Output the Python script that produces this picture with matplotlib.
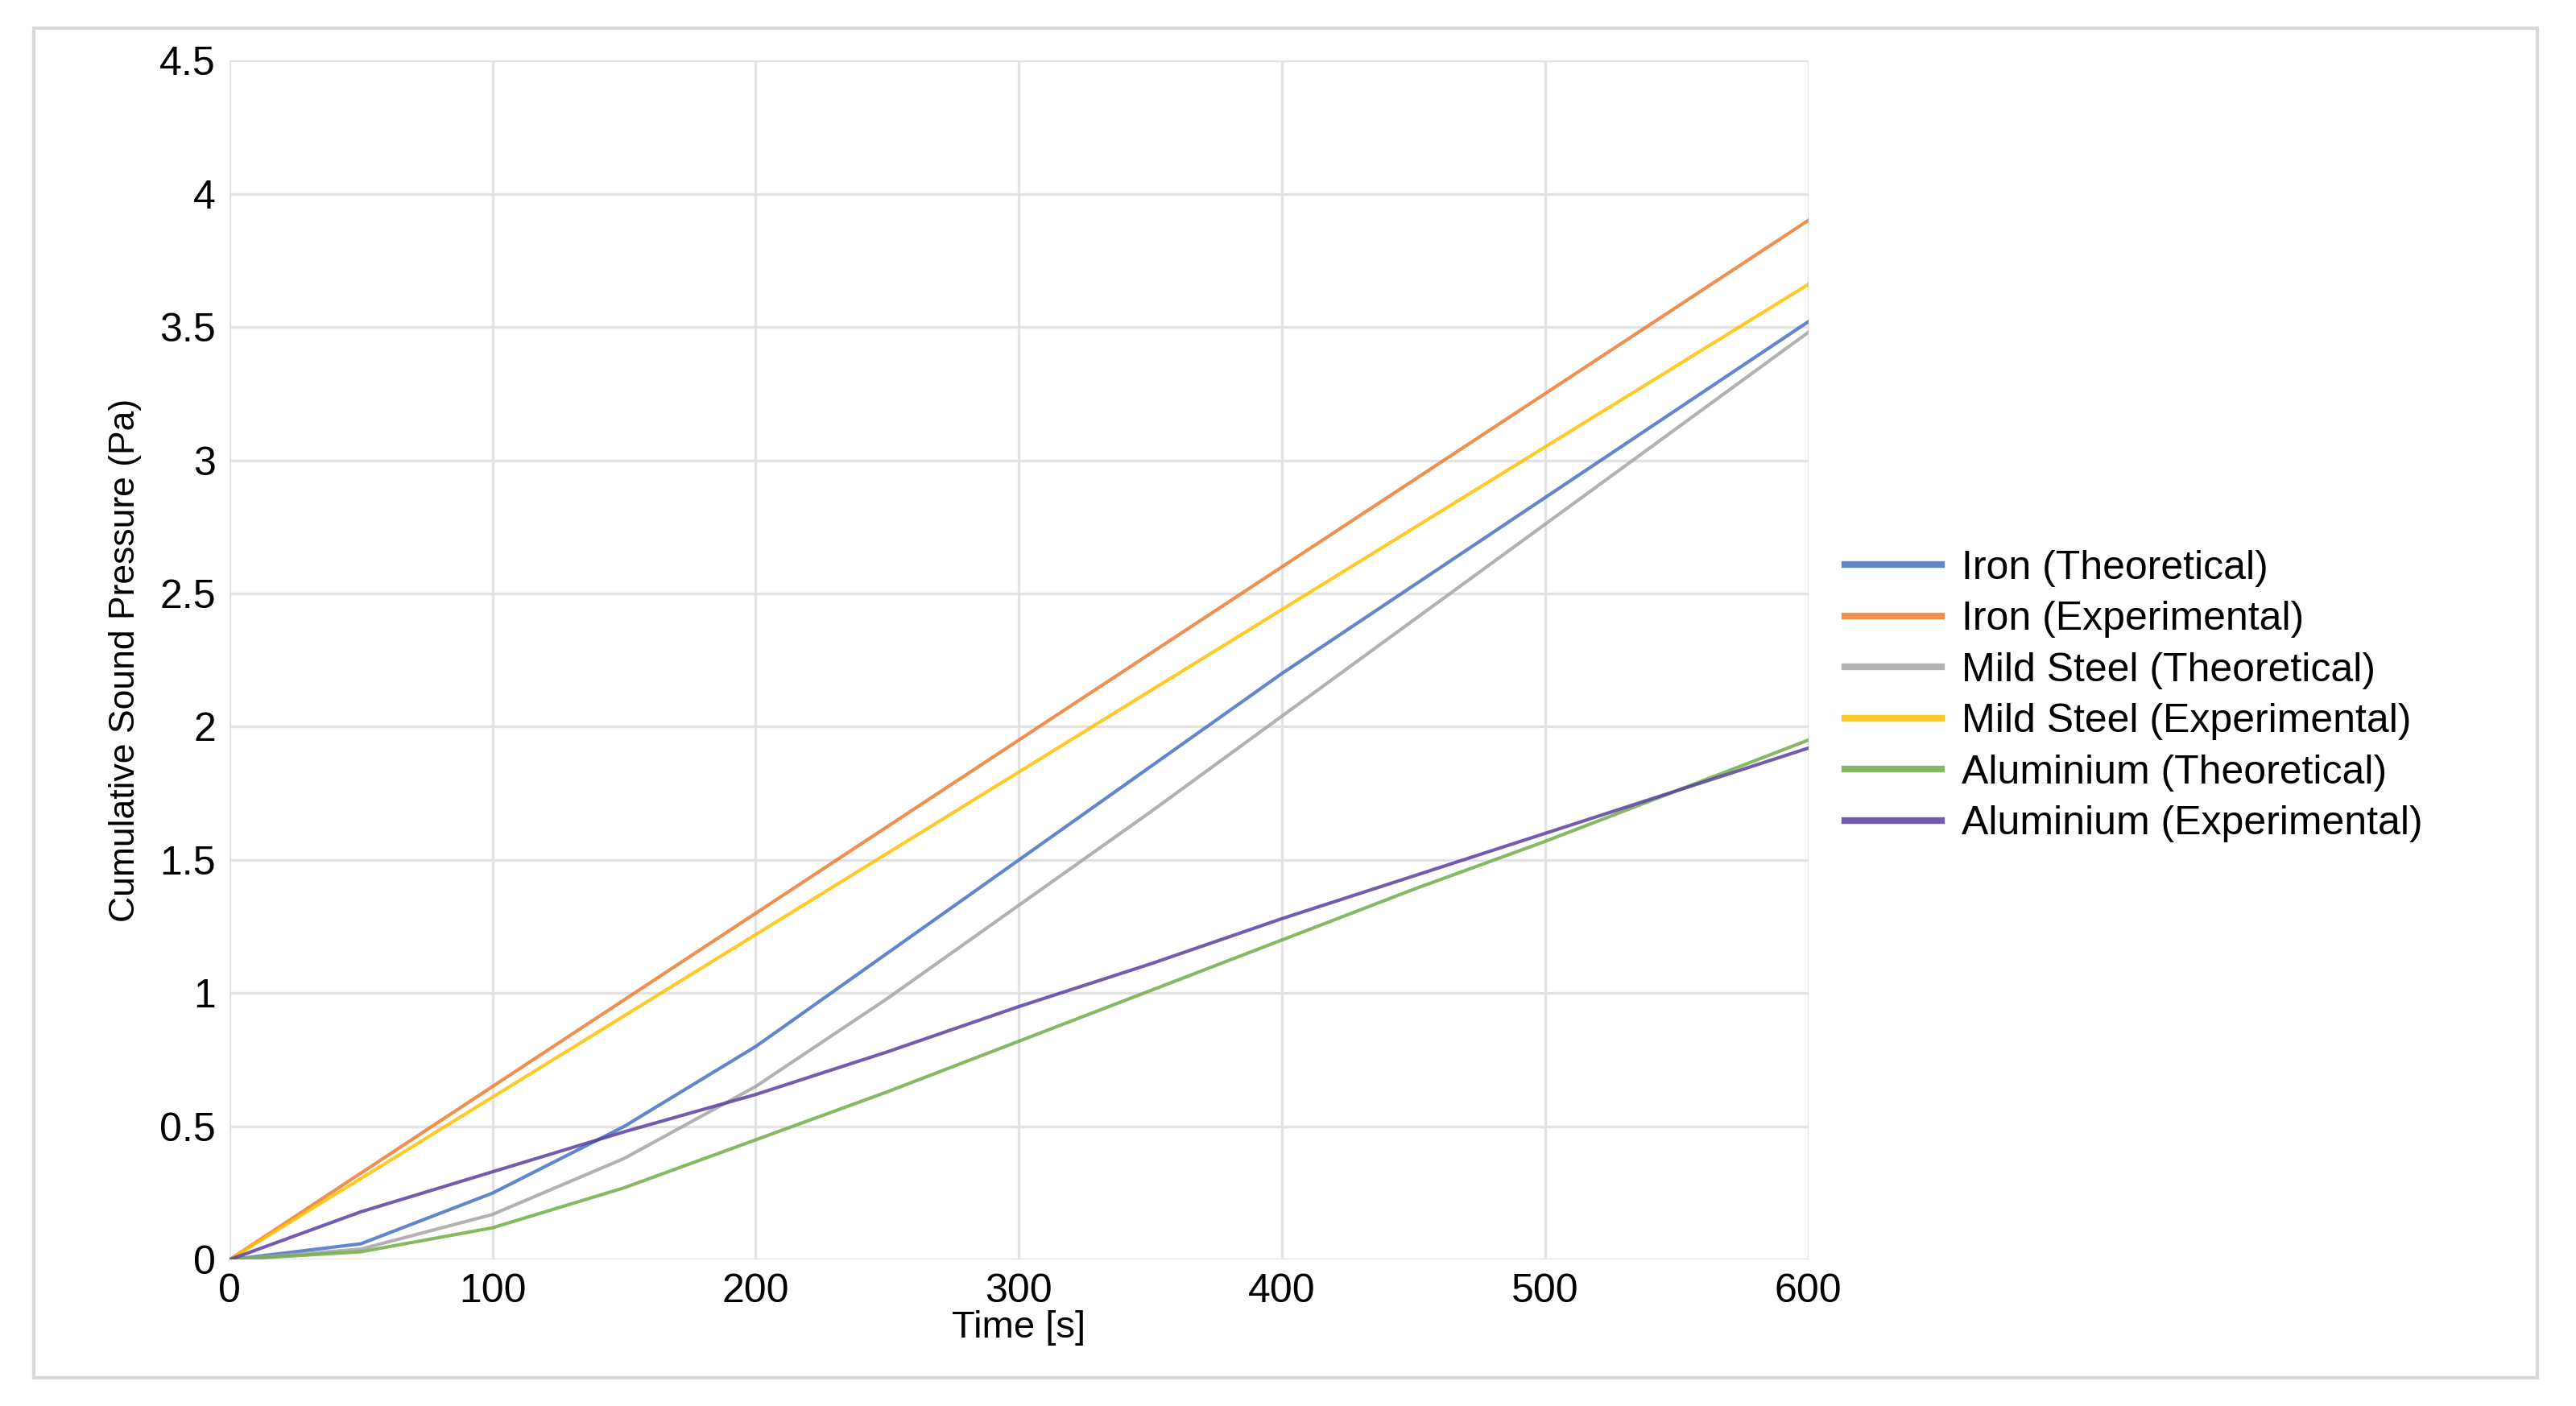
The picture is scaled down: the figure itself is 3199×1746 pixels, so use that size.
import matplotlib
matplotlib.use("Agg")
import matplotlib.pyplot as plt
from matplotlib.patches import Rectangle

plt.rcParams['font.family'] = ['Liberation Sans', 'DejaVu Sans']

t = [0, 50, 100, 150, 200, 250, 300, 350, 400, 450, 500, 550, 600]
iron_theo = [0, 0.06, 0.25, 0.5, 0.8, 1.15, 1.5, 1.85, 2.2, 2.53, 2.86, 3.19, 3.52]
iron_exp = [0, 0.325, 0.65, 0.975, 1.3, 1.625, 1.95, 2.275, 2.6, 2.925, 3.25, 3.575, 3.9]
ms_theo = [0, 0.04, 0.17, 0.38, 0.65, 0.98, 1.33, 1.68, 2.04, 2.4, 2.76, 3.12, 3.48]
ms_exp = [0, 0.305, 0.61, 0.915, 1.22, 1.525, 1.83, 2.135, 2.44, 2.745, 3.05, 3.355, 3.66]
al_theo = [0, 0.03, 0.12, 0.27, 0.45, 0.63, 0.82, 1.01, 1.2, 1.39, 1.57, 1.76, 1.95]
al_exp = [0, 0.18, 0.33, 0.48, 0.62, 0.78, 0.95, 1.11, 1.28, 1.44, 1.6, 1.76, 1.92]

series = [
    ("Iron (Theoretical)", iron_theo, "#4472C4"),
    ("Iron (Experimental)", iron_exp, "#ED7D31"),
    ("Mild Steel (Theoretical)", ms_theo, "#A5A5A5"),
    ("Mild Steel (Experimental)", ms_exp, "#FFC000"),
    ("Aluminium (Theoretical)", al_theo, "#70AD47"),
    ("Aluminium (Experimental)", al_exp, "#5B3FA0"),
]

fig = plt.figure(figsize=(15.995, 8.73), dpi=200)
fig.patches.append(Rectangle((0.013, 0.02), 0.972, 0.96, transform=fig.transFigure,
                             fill=False, edgecolor='#D9D9D9', linewidth=1.5))
ax = fig.add_axes([0.089, 0.104, 0.613, 0.853])
for name, y, c in series:
    ax.plot(t, y, color=c, linewidth=1.5, alpha=0.85, label=name)
ax.set_xlim(0, 600)
ax.set_ylim(0, 4.5)
ax.set_xticks([0, 100, 200, 300, 400, 500, 600])
ax.set_yticks([0, 0.5, 1, 1.5, 2, 2.5, 3, 3.5, 4, 4.5])
ax.set_yticklabels(['0', '0.5', '1', '1.5', '2', '2.5', '3', '3.5', '4', '4.5'])
ax.grid(True, color='#E3E3E3', linewidth=1.2)
for s in ax.spines.values():
    s.set_visible(False)
ax.tick_params(length=0, labelsize=18, pad=6)
ax.set_xlabel("Time [s]", fontsize=17, labelpad=0)
ax.set_ylabel("Cumulative Sound Pressure (Pa)", fontsize=16, labelpad=8)
leg = ax.legend(loc='center left', bbox_to_anchor=(1.0, 0.47), frameon=False, fontsize=18,
                handlelength=2.4, labelspacing=0.35, handletextpad=0.5)
for h in leg.get_lines():
    h.set_linewidth(3)
fig.savefig("out.png", dpi=200)
